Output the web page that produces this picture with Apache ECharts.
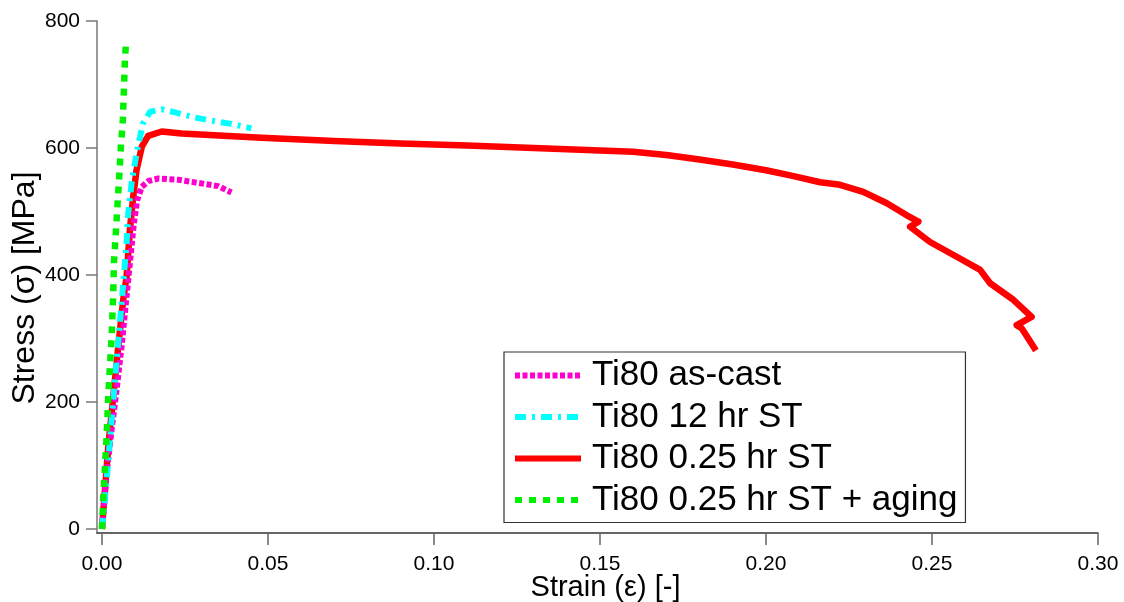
<!DOCTYPE html>
<html>
<head>
<meta charset="utf-8">
<script src="https://cdn.jsdelivr.net/npm/echarts@6/dist/echarts.min.js"></script>
<style>html,body{margin:0;padding:0;background:#fff;}#c{width:1124px;height:602px;}</style>
</head>
<body>
<div id="c"></div>
<script>
// ---- data (strain [-], stress [MPa]) ----
const seriesNames = ["Ti80 as-cast", "Ti80 12 hr ST", "Ti80 0.25 hr ST", "Ti80 0.25 hr ST + aging"];
const xTicks = [0, 0.05, 0.10, 0.15, 0.20, 0.25, 0.30];
const yTicks = [0, 200, 400, 600, 800];

const asCastStrain = [0, 0.0014, 0.0029, 0.0044, 0.0059, 0.0069, 0.0079, 0.0082, 0.0090, 0.0096, 0.0106, 0.0120, 0.0140, 0.0170, 0.0230, 0.0290, 0.0350, 0.0390];
const asCastStress = [0, 88, 156, 219, 287, 340, 392, 408, 450, 481, 518, 539, 548, 552, 550, 545, 540, 530];

const st12Strain = [0, 0.0014, 0.0024, 0.0034, 0.0044, 0.0054, 0.0064, 0.0074, 0.0079, 0.0089, 0.0099, 0.0110, 0.0124, 0.0145, 0.0180, 0.0220, 0.0280, 0.0330, 0.0390, 0.0450];
const st12Stress = [0, 77, 140, 203, 266, 324, 387, 450, 497, 544, 576, 607, 639, 657, 661, 656, 648, 643, 638, 631];

const st025Strain = [0, 0.0019, 0.0034, 0.0049, 0.0064, 0.0074, 0.0084, 0.0094, 0.0104, 0.0120, 0.0139, 0.0180, 0.0240, 0.0380, 0.0480, 0.070, 0.090, 0.110, 0.130, 0.150, 0.160, 0.170, 0.180, 0.190, 0.200, 0.2080, 0.2163, 0.2223, 0.2293, 0.2364, 0.2424, 0.2459, 0.2434, 0.2494, 0.2584, 0.2645, 0.2675, 0.2745, 0.2800, 0.2755, 0.2770, 0.2790, 0.2813];
const st025Stress = [0, 130, 208, 287, 361, 397, 471, 523, 565, 602, 619, 626, 623, 619, 616, 611, 607, 604, 600, 596, 594, 589, 582, 574, 565, 556, 546, 542, 531, 513, 494, 484, 476, 452, 426, 408, 387, 361, 334, 321, 316, 300, 281];

const agingStrain = [0, 0.0004, 0.0009, 0.0014, 0.0019, 0.0024, 0.0029, 0.0034, 0.0036, 0.0041, 0.0047, 0.0052, 0.0057, 0.0063, 0.0066, 0.0069, 0.0072];
const agingStress = [0, 51, 98, 145, 211, 256, 303, 371, 419, 460, 513, 555, 602, 645, 691, 737, 763];

function pairs(xs, ys) { return xs.map((x, i) => [x, ys[i]]); }

const FONT = "'Liberation Sans', Arial, sans-serif";
const chart = echarts.init(document.getElementById('c'), null, {renderer: 'canvas'});

const option = {
  animation: false,
  backgroundColor: '#ffffff',
  grid: {left: 97, right: 26, top: 21, bottom: 69, containLabel: false, outerBoundsMode: 'none'},
  xAxis: {
    type: 'value',
    min: -0.0015, max: 0.30,
    name: 'Strain (ε) [-]',
    nameLocation: 'middle',
    nameGap: 40,
    nameMoveOverlap: false,
    nameTextStyle: {fontFamily: FONT, fontSize: 29, color: '#000', padding: [0, 0, 0, 16]},
    axisLine: {show: true, onZero: false, lineStyle: {color: '#333', width: 1.5}},
    axisTick: {show: true, length: 12, lineStyle: {color: '#666', width: 1.5}, customValues: xTicks},
    axisLabel: {fontFamily: FONT, fontSize: 21, color: '#000', margin: 21, customValues: xTicks,
      formatter: v => v.toFixed(2)},
    splitLine: {show: false}
  },
  yAxis: {
    type: 'value',
    min: -6.3, max: 800,
    name: 'Stress (σ) [MPa]',
    nameLocation: 'middle',
    nameGap: 56,
    nameRotate: 90,
    nameMoveOverlap: false,
    nameTextStyle: {fontFamily: FONT, fontSize: 32, color: '#000', padding: [0, 22, 0, 0]},
    axisLine: {show: true, onZero: false, lineStyle: {color: '#777', width: 1.5}},
    axisTick: {show: true, length: 11, lineStyle: {color: '#777', width: 1.5}, customValues: yTicks},
    axisLabel: {fontFamily: FONT, fontSize: 21, color: '#000', margin: 17, customValues: yTicks,
      formatter: v => String(Math.round(v))},
    splitLine: {show: false}
  },
  legend: {
    orient: 'vertical',
    left: 504, top: 352,
    padding: [6, 8, 5, 8],
    itemGap: 6.5,
    itemWidth: 66,
    itemHeight: 35,
    borderColor: '#333',
    borderWidth: 1.2,
    backgroundColor: '#fff',
    lineStyle: {width: 6},
    itemStyle: {opacity: 0, borderWidth: 0},
    textStyle: {fontFamily: FONT, fontSize: 35, lineHeight: 35, color: '#000', padding: [0, 0, 0, 6]},
    data: seriesNames
  },
  series: [
    {name: seriesNames[0], type: 'line', z: 3, symbol: 'none', showSymbol: false,
      data: pairs(asCastStrain, asCastStress),
      lineStyle: {color: '#ff00cc', width: 6, type: [5, 2.5]}, itemStyle: {color: '#ff00cc'}},
    {name: seriesNames[1], type: 'line', z: 4, symbol: 'none', showSymbol: false,
      data: pairs(st12Strain, st12Stress),
      lineStyle: {color: '#00ffff', width: 6, type: [11, 6, 3, 6]}, itemStyle: {color: '#00ffff'}},
    {name: seriesNames[2], type: 'line', z: 2, symbol: 'none', showSymbol: false,
      data: pairs(st025Strain, st025Stress),
      lineStyle: {color: '#ff0000', width: 6.5, type: 'solid', join: 'round'}, itemStyle: {color: '#ff0000'}},
    {name: seriesNames[3], type: 'line', z: 5, symbol: 'none', showSymbol: false,
      data: pairs(agingStrain, agingStress),
      lineStyle: {color: '#00f000', width: 6.5, type: [7, 7]}, itemStyle: {color: '#00f000'}}
  ]
};
chart.setOption(option);
</script>
</body>
</html>
